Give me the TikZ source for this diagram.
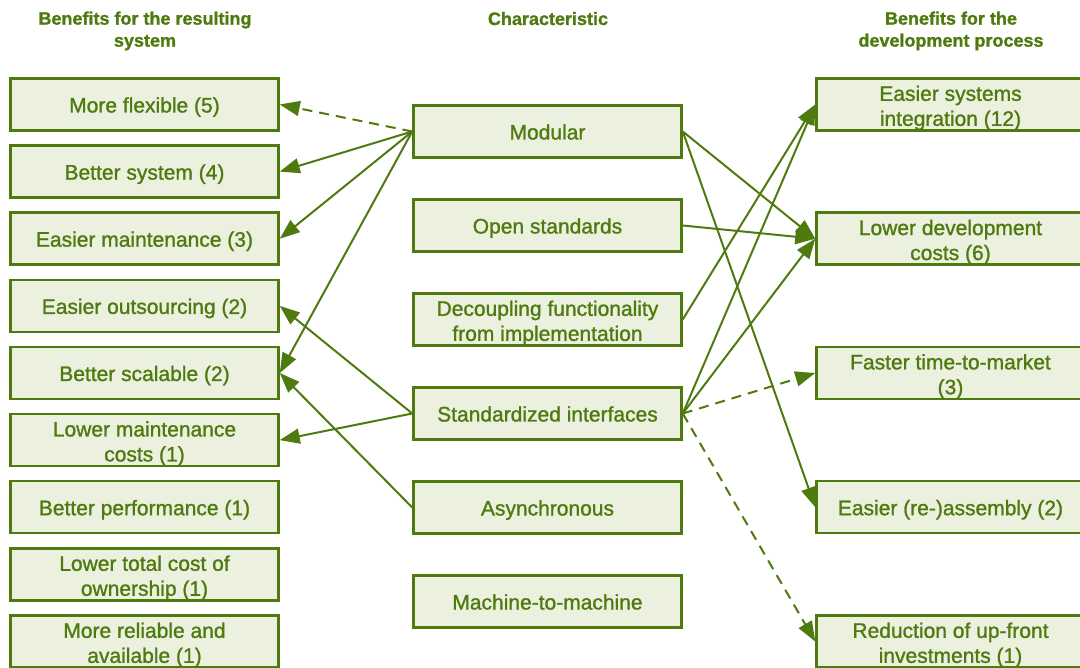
\documentclass[tikz,border=0pt]{standalone}
\usepackage{fontspec}
\setmainfont{Liberation Sans}
\newfontfamily\boxfont{Liberation Sans}[FakeBold=1.2]
\newfontfamily\hdrfont{Liberation Sans Bold}[FakeBold=1.2]
\usetikzlibrary{arrows.meta}
\definecolor{gc}{HTML}{4F7A0F}
\definecolor{gf}{HTML}{EBF1DE}
\begin{document}
\begin{tikzpicture}[x=1pt,y=-1pt,
 box/.style={draw=gc, fill=gf, line width=2.5pt, minimum width=268pt, minimum height=52pt, inner sep=0pt, label={[txt]center:#1}},
 boxtwo/.style={draw=gc, fill=gf, line width=2.5pt, minimum width=268pt, minimum height=52pt, inner sep=0pt, label={[txt,yshift=-2pt]center:#1}},
 txt/.style={yshift=-3pt, align=center, text=gc, inner sep=0pt, font=\boxfont\fontsize{21}{25}\selectfont,
   execute at begin node=\strut, execute at end node=\strut},
 hdr/.style={text=gc, align=center, font=\hdrfont\fontsize{18}{22}\selectfont},
 arr/.style={draw=gc, line width=2pt, -{Triangle[length=20pt,width=15pt]}},
 dsh/.style={arr, dash pattern=on 10pt off 7pt}]
\useasboundingbox (0,0) rectangle (1080,668);
% headers
\node[hdr] (h1) at (145,31) {Benefits for the resulting\\system};
\node[hdr, anchor=base] (h2) at (548,25) {Characteristic};
\node[hdr] (h3) at (951,31) {Benefits for the\\development process};
% left column
\node[box={More flexible (5)}] (l1) at (144.5,104.5) {};
\node[box={Better system (4)}] (l2) at (144.5,171.6) {};
\node[box={Easier maintenance (3)}] (l3) at (144.5,238.7) {};
\node[box={Easier outsourcing (2)}] (l4) at (144.5,305.9) {};
\node[box={Better scalable (2)}] (l5) at (144.5,373.0) {};
\node[boxtwo={Lower maintenance\\costs (1)}] (l6) at (144.5,440.1) {};
\node[box={Better performance (1)}] (l7) at (144.5,507.2) {};
\node[boxtwo={Lower total cost of\\ownership (1)}] (l8) at (144.5,574.4) {};
\node[boxtwo={More reliable and\\available (1)}] (l9) at (144.5,641.5) {};
% middle column
\node[box={Modular}] (m1) at (547.5,131.5) {};
\node[box={Open standards}] (m2) at (547.5,225.5) {};
\node[boxtwo={Decoupling functionality\\from implementation}] (m3) at (547.5,319.5) {};
\node[box={Standardized interfaces}] (m4) at (547.5,413.5) {};
\node[box={Asynchronous}] (m5) at (547.5,507.5) {};
\node[box={Machine-to-machine}] (m6) at (547.5,601.5) {};
% right column
\node[boxtwo={Easier systems\\integration (12)}] (r1) at (950.5,104.5) {};
\node[boxtwo={Lower development\\costs (6)}] (r2) at (950.5,238.7) {};
\node[boxtwo={Faster time-to-market\\(3)}] (r3) at (950.5,373.0) {};
\node[box={Easier (re-)assembly (2)}] (r4) at (950.5,507.2) {};
\node[boxtwo={Reduction of up-front\\investments (1)}] (r5) at (950.5,641.5) {};
% connectors to the left
\draw[dsh] (m1.west) -- (l1.east);
\draw[arr] (m1.west) -- (l2.east);
\draw[arr] (m1.west) -- (l3.east);
\draw[arr] (m1.west) -- (l5.east);
\draw[arr] (m4.west) -- (l4.east);
\draw[arr] (m4.west) -- (l6.east);
\draw[arr] (m5.west) -- (l5.east);
% connectors to the right
\draw[arr] (m1.east) -- (r2.west);
\draw[arr] (m1.east) -- (r4.west);
\draw[arr] (m2.east) -- (r2.west);
\draw[arr] (m3.east) -- (r1.west);
\draw[arr] (m4.east) -- (r1.west);
\draw[arr] (m4.east) -- (r2.west);
\draw[dsh] (m4.east) -- (r3.west);
\draw[dsh] (m4.east) -- (r5.west);
\end{tikzpicture}
\end{document}
